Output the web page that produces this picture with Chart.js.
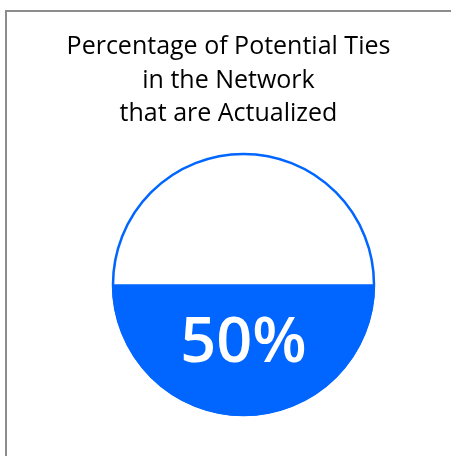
<!DOCTYPE html>
<html>
<head>
<meta charset="utf-8">
<script src="https://cdn.jsdelivr.net/npm/chart.js@4.4.1/dist/chart.umd.min.js"></script>
<style>
  html, body { margin: 0; padding: 0; background: #fff; overflow: hidden; }
  #wrap { position: relative; width: 451px; height: 456px; }
  #frame {
    position: absolute; left: 5px; top: 10px; right: 0; bottom: 0;
    border-top: 2px solid #8c8c8c; border-left: 2px solid #8c8c8c;
    pointer-events: none;
  }
</style>
</head>
<body>
<div id="wrap">
  <canvas id="gauge" width="451" height="456"></canvas>
  <div id="frame"></div>
</div>
<script>
const titleLines = ['Percentage of Potential Ties', 'in the Network', 'that are Actualized'];
const categories = ['Actualized'];
const fillValues = [50];
const scaleMax = 100;

const BLUE = '#0066ff';

// clip the fill bar to a circle inscribed in the chart area, then outline + label
const liquidCircle = {
    id: 'liquidCircle',
    beforeDatasetsDraw(chart) {
        const { ctx, chartArea: a } = chart;
        const r = Math.min(a.width, a.height) / 2;
        ctx.save();
        ctx.beginPath();
        ctx.arc((a.left + a.right) / 2, (a.top + a.bottom) / 2, r, 0, Math.PI * 2);
        ctx.clip();
    },
    afterDatasetsDraw(chart) {
        const { ctx, chartArea: a } = chart;
        ctx.restore();
        const cx = (a.left + a.right) / 2;
        const cy = (a.top + a.bottom) / 2;
        const r = Math.min(a.width, a.height) / 2;
        ctx.save();
        ctx.beginPath();
        ctx.arc(cx, cy, r - 1, 0, Math.PI * 2);
        ctx.lineWidth = 2.5;
        ctx.strokeStyle = BLUE;
        ctx.stroke();

        const value = chart.data.datasets[0].data[0];
        ctx.fillStyle = '#ffffff';
        ctx.font = '600 63px "Open Sans", sans-serif';
        ctx.textAlign = 'center';
        ctx.textBaseline = 'alphabetic';
        ctx.fillText(`${value}%`, cx, cy + r * 0.59);
        ctx.restore();
    },
};

// invisible side axes, only used to push the plot square away from the title box edges
const spacerAxis = (width, position) => ({
    position,
    display: true,
    ticks: { display: false },
    grid: { display: false },
    border: { display: false },
    afterFit: (scale) => { scale.width = width; },
});

new Chart(document.getElementById('gauge'), {
    type: 'bar',
    data: {
        labels: categories,
        datasets: [
            {
                data: fillValues,
                backgroundColor: BLUE,
                borderWidth: 0,
                barPercentage: 1,
                categoryPercentage: 1,
            },
        ],
    },
    options: {
        responsive: false,
        animation: false,
        events: [],
        layout: { padding: { left: 40, right: 34, top: 0, bottom: 40 } },
        scales: {
            x: { display: false },
            y: { ...spacerAxis(72, 'left'), min: 0, max: scaleMax },
            y2: { ...spacerAxis(42, 'right'), min: 0, max: scaleMax },
        },
        plugins: {
            legend: { display: false },
            tooltip: { enabled: false },
            title: {
                display: true,
                text: titleLines,
                color: '#000000',
                font: { family: '"Open Sans", sans-serif', size: 25, weight: 'normal', lineHeight: 1.34 },
                padding: { top: 30.5, bottom: 22 },
            },
        },
    },
    plugins: [liquidCircle],
});
</script>
</body>
</html>
